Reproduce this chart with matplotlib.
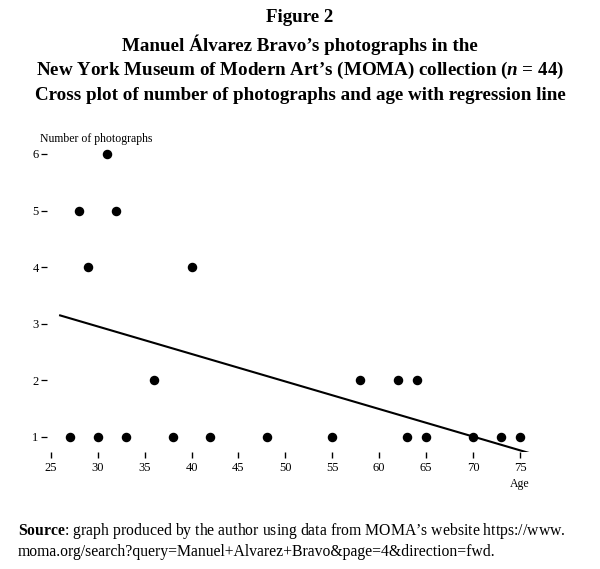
import numpy as np
import matplotlib.pyplot as plt

plt.rcParams['font.family'] = ['Liberation Serif', 'DejaVu Serif']
plt.rcParams['mathtext.fontset'] = 'custom'
plt.rcParams['mathtext.rm'] = 'Liberation Serif'
plt.rcParams['mathtext.bf'] = 'Liberation Serif:bold'
plt.rcParams['mathtext.it'] = 'Liberation Serif:italic'
plt.rcParams['mathtext.bfit'] = 'Liberation Serif:bold:italic'

# age at which the photograph was taken, number of photographs at that age
age = [31, 28, 32, 29, 40, 36, 58, 62, 64,
       27, 30, 33, 38, 42, 48, 55, 63, 65, 70, 73, 75]
photos = [6, 5, 5, 4, 4, 2, 2, 2, 2,
          1, 1, 1, 1, 1, 1, 1, 1, 1, 1, 1, 1]
xticks = [25, 30, 35, 40, 45, 50, 55, 60, 65, 70, 75]
yticks = [1, 2, 3, 4, 5, 6]

fig = plt.figure(figsize=(6, 5.69), dpi=100)
ax = fig.add_axes([0.0783, 0.2056, 0.8197, 0.5387])

ax.scatter(age, photos, s=34, color='black', zorder=3)

# OLS regression line
b, a = np.polyfit(age, photos, 1)
xl = np.array([26.0, 76.0])
ax.plot(xl, a + b * xl, color='black', lw=1.5)

ax.set_xlim(24.6, 77)
ax.set_ylim(0.73, 6.15)
ax.set_xticks(xticks)
ax.set_yticks(yticks)
for s in ax.spines.values():
    s.set_visible(False)
ax.tick_params(axis='x', length=4, width=1, pad=3, labelsize=9)
ax.tick_params(axis='y', length=4, width=0.9, pad=2, labelsize=9)

fig.text(40 / 600, 1 - 139 / 569, 'Number of photographs', fontsize=8.5,
         ha='left', va='center')
fig.text(520 / 600, 1 - 484 / 569, 'Age', fontsize=8.5, ha='center', va='center')

title_lines = ['Figure 2',
               'Manuel Álvarez Bravo’s photographs in the',
               'New York Museum of Modern Art’s (MOMA) collection ($\\mathbfit{n}$ = 44)',
               'Cross plot of number of photographs and age with regression line']
ys = [18, 45, 70, 95]
for t, y in zip(title_lines, ys):
    fig.text(0.5, 1 - y / 569, t, fontsize=13.7, fontweight='bold',
             ha='center', va='center')

fig.text(18 / 600, 1 - 531 / 569, r'$\mathbf{Source}$: graph produced by the author using data from MOMA’s website https://www.',
         fontsize=11.3, ha='left', va='center')
fig.text(18 / 600, 1 - 552 / 569, 'moma.org/search?query=Manuel+Alvarez+Bravo&page=4&direction=fwd.',
         fontsize=11.3, ha='left', va='center')

fig.savefig('out.png', dpi=100)
